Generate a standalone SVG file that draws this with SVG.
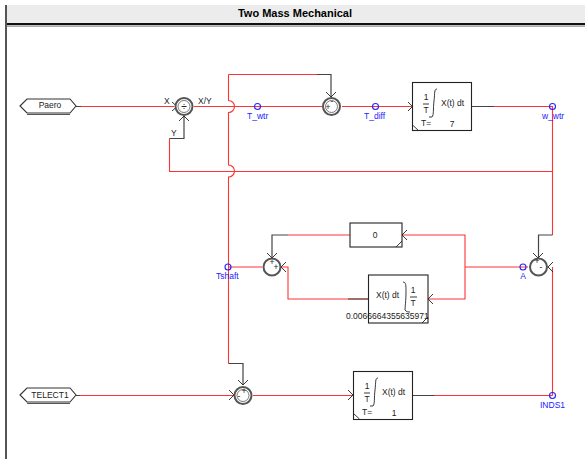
<svg xmlns="http://www.w3.org/2000/svg" width="585" height="459" viewBox="0 0 585 459">
<style>
text{font-family:"Liberation Sans",Arial,sans-serif;font-size:8.5px;fill:#222}
.t{fill:#22f}
.r{fill:none;stroke:#f33;stroke-width:1.1}
.k{fill:none;stroke:#444;stroke-width:1.2}
.s{fill:#fff;stroke:#555;stroke-width:2}
.s2{fill:none;stroke:#555;stroke-width:0.8}
.b{fill:#fff;stroke:#222;stroke-width:1.1}
.p{fill:none;stroke:#22f;stroke-width:1.1}
.a{fill:none;stroke:#222;stroke-width:0.9}
.m{text-anchor:middle}
</style>
<rect width="585" height="459" fill="#fff"/>
<g id="frame">
<rect x="5" y="5" width="580" height="18" fill="#ececec"/>
<rect x="5" y="23" width="580" height="2.200" fill="#111"/>
<rect x="5" y="25.800" width="580" height="0.800" fill="#777"/>
<rect x="5" y="5" width="2" height="454" fill="#555"/>
<text x="295" y="17" class="m" style="font-size:11px;font-weight:bold;fill:#000">Two Mass Mechanical</text>
</g>
<g id="connectors">
<path class="r" d="M228.500 74.500V100.500a6 6 0 0 1 0 12V165a6 6 0 0 1 0 12V363.500M228.500 74.500H317"/>
<path class="r" d="M81 106.500H174M194 106.500H322M342 106.500H412M494 106.500H552.500V235M169.500 138.500V171.500H552.500M552.500 267V395.500M434 395.500H552.500M80 395.500H234M253 395.500H353"/>
<path class="r" d="M402 235H465V299H428M465 267H528M350 235H288M368 299H288V267H281M228.500 267H262"/>
<path class="k" d="M76 106.500H81M76 395.500H80M317 74.500H331V97M471.500 106.500H494M169.500 138.500H184V116M552.500 235H538.500V258M288 235H272V258M368 299H348M412 395.500H434M228.500 363.500H243V385"/>
<path class="a" d="M172 102l5 4.500-5 4.500M326 102l5 4.500-5 4.500M326 92l5 5 5-5M179 121l5-5 5 5M408 102l4.500 4.500-4.500 4.500M267 253l5 5 5-5M286 262l-5 5 5 5M407 230l-5 5 5 5M433 294l-5 5 5 5M533 253l5 5 5-5M553 262l-5 5 5 5M238 380l5 5 5-5M229 390l5 5-5 5M348 390l5 5-5 5"/>
</g>
<g id="Paero">
<path d="M20 106L27 99H70L76 106L70 113H27Z" fill="#fff" stroke="#333" stroke-width="1.1"/>
<path d="M27 114.500H70" stroke="#555" fill="none"/>
<text x="50" y="108" class="m">Paero</text>
</g>
<g id="TELECT1">
<path d="M20 395L27 388H70L76 395L70 402H27Z" fill="#fff" stroke="#333" stroke-width="1.1"/>
<path d="M27 403.500H70" stroke="#555" fill="none"/>
<text x="50" y="397.500" class="m">TELECT1</text>
</g>
<g id="divider">
<circle class="s" cx="184" cy="106.500" r="8.500"/><circle class="s2" cx="184" cy="106.500" r="6"/>
<text x="184" y="110" class="m" style="font-size:10px">÷</text>
<text x="164" y="104">X</text><text x="198" y="104">X/Y</text><text x="171" y="136">Y</text>
</g>
<g id="sum1">
<circle class="s" cx="331.500" cy="106.500" r="8.500"/><circle class="s2" cx="331.500" cy="106.500" r="6"/>
<text x="328" y="110" class="m">+</text><text x="332" y="104" class="m">-</text>
</g>
<g id="int1">
<rect class="b" x="412.500" y="82.500" width="59" height="48"/>
<path class="a" d="M412.500 125l6 5.500"/>
<text x="426" y="100" class="m">1</text><path class="a" d="M423 104H429"/><text x="426" y="113" class="m">T</text>
<path class="a" d="M437 89c-3 0-2 4-3 12s0 14-2 16c-1 0-2 0-3 0"/>
<text x="441" y="106">X(t) dt</text>
<text x="421" y="126">T=</text><text x="452" y="126.500" class="m">7</text>
</g>
<g id="block0">
<rect class="b" x="350" y="223" width="52" height="24"/>
<path class="a" d="M396 247l6-6"/>
<text x="375" y="238" class="m">0</text>
</g>
<g id="sum3">
<circle class="s" cx="272" cy="267" r="8.500"/>
<text x="272" y="265" class="m">+</text><text x="276" y="270" class="m">+</text>
</g>
<g id="int2">
<rect class="b" x="368.500" y="275" width="59.500" height="48"/>
<path class="a" d="M422 323l6-6"/>
<text x="413" y="293" class="m">1</text><path class="a" d="M410 297H417"/><text x="413" y="306" class="m">T</text>
<path class="a" d="M403 282c3 0 3 3 3 10 0 8-1 16-1 18 1 2 4 2 5 2"/>
<text x="376" y="298">X(t) dt</text>
<text x="346" y="318.500">0.0066664355635971</text>
</g>
<g id="sum4">
<circle class="s" cx="538.500" cy="267" r="8.500"/>
<text x="537" y="264" class="m">+</text><text x="541" y="270" class="m">-</text>
</g>
<g id="sum2">
<circle class="s" cx="243" cy="395.500" r="8.500"/><circle class="s2" cx="243" cy="395.500" r="6"/>
<text x="244" y="394" class="m">+</text><text x="239" y="399" class="m">-</text>
</g>
<g id="int3">
<rect class="b" x="353.500" y="371.500" width="59" height="48"/>
<path class="a" d="M353.500 413.500l6 5.500"/>
<text x="367" y="389" class="m">1</text><path class="a" d="M364 393H370"/><text x="367" y="402" class="m">T</text>
<path class="a" d="M378 378c-3 0-2 4-3 12s0 14-2 16c-1 0-2 0-3 0"/>
<text x="382" y="395">X(t) dt</text>
<text x="362" y="415">T=</text><text x="394" y="415.500" class="m">1</text>
</g>
<g id="T_wtr"><circle class="p" cx="257.500" cy="106.500" r="3"/><text x="247" y="119" class="t">T_wtr</text></g>
<g id="T_diff"><circle class="p" cx="375.500" cy="106.500" r="3"/><text x="364" y="119" class="t">T_diff</text></g>
<g id="w_wtr"><circle class="p" cx="552.500" cy="106.500" r="3"/><text x="542" y="119" class="t">w_wtr</text></g>
<g id="Tshaft"><circle class="p" cx="228" cy="267" r="3"/><text x="216" y="279" class="t">Tshaft</text></g>
<g id="A"><circle class="p" cx="523" cy="267" r="3"/><text x="523" y="279" class="t m">A</text></g>
<g id="INDS1"><circle class="p" cx="552.500" cy="395.500" r="3"/><text x="540" y="408" class="t">INDS1</text></g>
</svg>
